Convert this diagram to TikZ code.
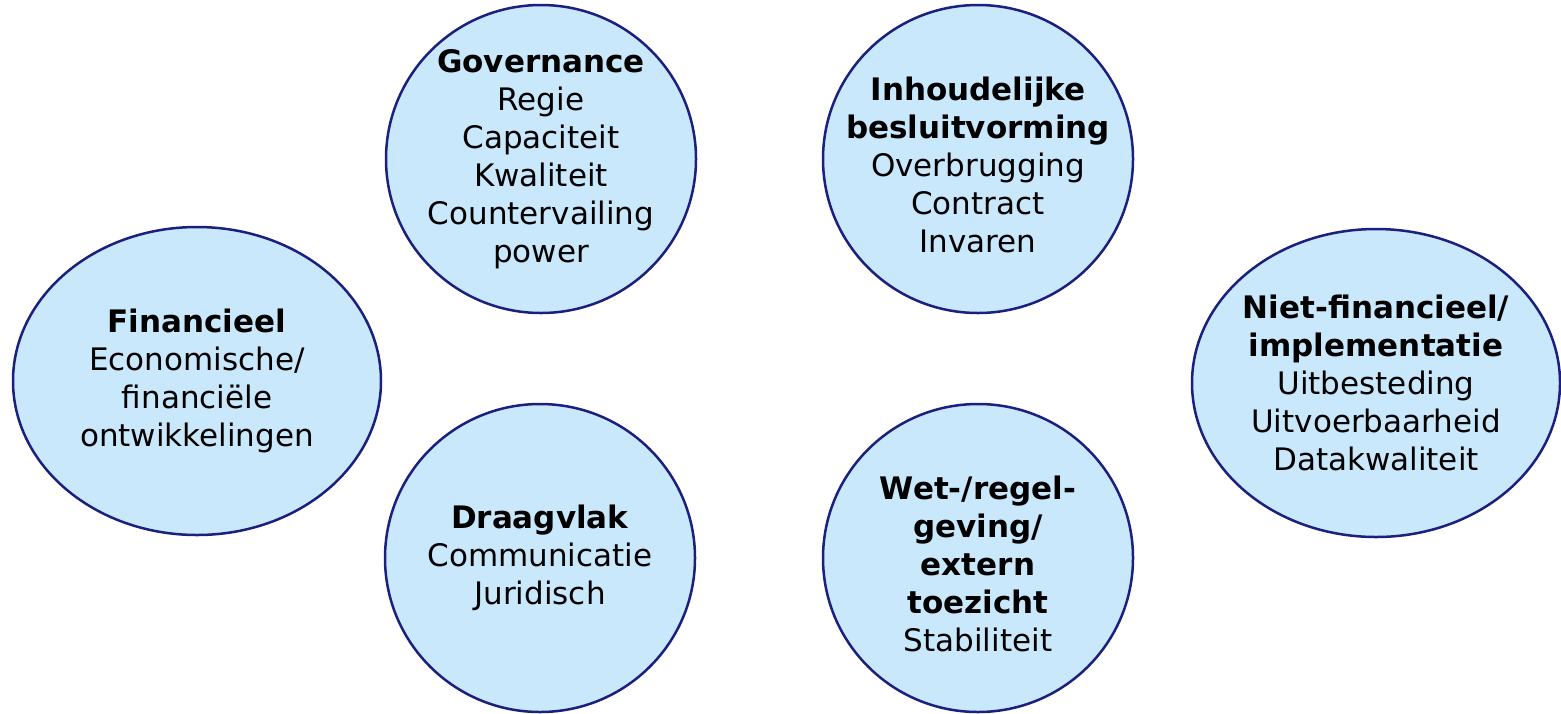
\documentclass[tikz,border=0pt]{standalone}
\usepackage{fontspec}
\setmainfont{DejaVu Sans}
\usetikzlibrary{shapes.geometric}
\definecolor{blobfill}{HTML}{C9E8FC}
\definecolor{blobline}{HTML}{1B1F7E}

\begin{document}
\begin{tikzpicture}[x=0.5pt, y=-0.5pt,
  blob/.style={ellipse, draw=blobline, fill=blobfill, line width=1.25pt, inner sep=0pt, minimum height=154pt},
  small/.style={blob, minimum width=155pt},
  large/.style={blob, minimum width=184pt},
  txt/.style={align=center, inner sep=0pt, font=\fontsize{15.5}{19}\selectfont}]
\useasboundingbox (0,0) rectangle (1561,713);

\node (fin)[large] at (197, 381) {};
\node (gov)[small] at (541, 159) {};
\node (inh)[small] at (978, 159) {};
\node (nfi)[large] at (1376, 383) {};
\node (dra)[small] at (540, 558) {};
\node (wet)[small] at (978, 558) {};

\node (finT)[txt] at (fin) {\textbf{Financieel}\\Economische/\\financiële\\ontwikkelingen};
\node (govT)[txt] at (gov) {\textbf{Governance}\\Regie\\Capaciteit\\Kwaliteit\\Countervailing\\power};
\node (inhT)[txt] at ([yshift=-3pt]inh.center) {\textbf{Inhoudelijke}\\\textbf{besluitvorming}\\Overbrugging\\Contract\\Invaren};
\node (nfiT)[txt] at (nfi) {\textbf{Niet-financieel/}\\\textbf{implementatie}\\Uitbesteding\\Uitvoerbaarheid\\Datakwaliteit};
\node (draT)[txt] at (dra) {\textbf{Draagvlak}\\Communicatie\\Juridisch};
\node (wetT)[txt] at ([yshift=-3pt]wet.center) {\textbf{Wet-/regel-}\\\textbf{geving/}\\\textbf{extern}\\\textbf{toezicht}\\Stabiliteit};
\end{tikzpicture}
\end{document}
